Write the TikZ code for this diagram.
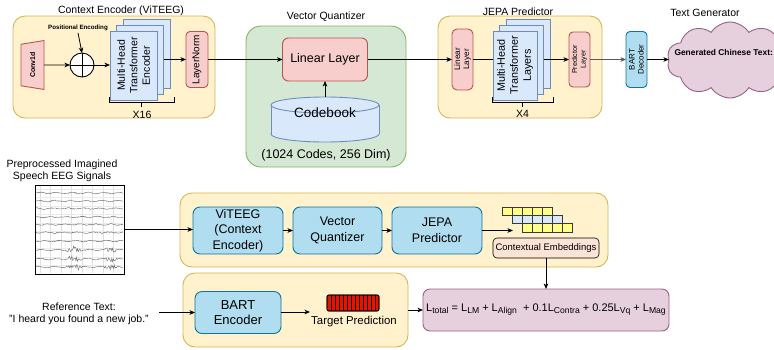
\documentclass[tikz,border=0pt]{standalone}
\usepackage{fontspec}
\setmainfont{Liberation Sans}
\usetikzlibrary{arrows.meta,shapes.geometric,shapes.symbols}

\definecolor{ylwF}{HTML}{FFF2CC}
\definecolor{ylwD}{HTML}{D6B656}
\definecolor{grnF}{HTML}{D5E8D4}
\definecolor{grnD}{HTML}{82B366}
\definecolor{redF}{HTML}{F8CECC}
\definecolor{redD}{HTML}{B85450}
\definecolor{bluF}{HTML}{DAE8FC}
\definecolor{bluD}{HTML}{6C8EBF}
\definecolor{cyF}{HTML}{B1DDF0}
\definecolor{cyD}{HTML}{10739E}
\definecolor{pnkF}{HTML}{E6D0DE}
\definecolor{pnkD}{HTML}{996185}
\definecolor{peach}{HTML}{FBE3D6}
\definecolor{cellY}{HTML}{FFFF88}
\definecolor{cellD}{HTML}{36393D}
\definecolor{barR}{HTML}{E51400}

\newcommand\fsz[2]{\fontsize{#1}{#2}\selectfont}
\newcommand\lsub[1]{\raisebox{-0.35ex}{\fsz{8.6}{9}#1}}

\begin{document}
\begin{tikzpicture}[x=1pt,y=-1pt,
  every node/.style={inner sep=0pt, outer sep=0pt, font=\fsz{10.5}{12.5}},
  box/.style={draw, line width=0.9pt, rounded corners=#1},
  box/.default=6,
  ylw/.style={box=12, fill=ylwF, draw=ylwD},
  grn/.style={box=15, fill=grnF, draw=grnD},
  redb/.style={box=#1, fill=redF, draw=redD},
  redb/.default=5,
  page/.style={draw=bluD, fill=bluF, line width=0.9pt},
  cyb/.style={box=#1, fill=cyF, draw=cyD},
  cyb/.default=6,
  pnk/.style={box=#1, fill=pnkF, draw=pnkD},
  pnk/.default=7,
  cell/.style={draw=cellD, line width=0.6pt, minimum width=10, minimum height=8.3},
  wire/.style={line width=0.8pt},
  arr/.style={wire, -{Stealth[length=5.5pt,width=4.6pt,inset=1.6pt]}},
  ttl/.style={font=\fsz{10.5}{12.5}}
]
\useasboundingbox (0,0) rectangle (774,349);

% ---------------- Context encoder ----------------
\node[ttl] (encT) at (121,11) {Context Encoder (ViTEEG)};
\node[ylw, minimum width=202, minimum height=102] (enc) at (114,67) {};
\node[trapezium, rotate=90, trapezium stretches=true, trapezium left angle=66,
      trapezium right angle=66, draw=redD, fill=redF, line width=0.9pt,
      minimum width=49, minimum height=23, font=\bfseries\fsz{7}{8}] (conv) at (32.5,65) {Conv1d};
\node[draw, circle, fill=white, line width=0.9pt, minimum size=24] (add) at (82,65) {};
\draw[wire] (add.north) -- (add.south) (add.west) -- (add.east);
\node[font=\bfseries\fsz{6.2}{7}] (pos) at (78,28) {Positional Encoding};
\draw[arr] (pos.south) ++(0,2) coordinate (posout) (posout) -- (add.north);
\draw[arr] (conv.south) -- (add.west);

\node[page, minimum width=47, minimum height=69] (eback) at (146.5,53.5) {};
\node[page, minimum width=47, minimum height=69] (emid) at (140,59.5) {};
\node[page, minimum width=47, minimum height=69] (efront) at (133.5,65.5) {};
\node[rotate=90, align=center, font=\fsz{10.5}{12.5}] (efrontT) at (efront.center) {Multi-Head\\Transformer\\Encoder};
\draw[arr] (add.east) -- (add.east -| efront.west);

\node[redb=4, minimum width=22, minimum height=56] (ln) at (197,59.5) {};
\node[rotate=90, font=\fsz{10}{12}] (lnT) at (ln.center) {LayerNorm};
\draw[arr] (emid.east) -- (emid.east -| ln.west);

\draw[wire] (109,97) -- (109,102) -- (174,102) -- (174,97) (141.5,102) -- (141.5,107);
\node[font=\fsz{10.5}{12}] (x16) at (142,114.5) {X16};

% ---------------- Vector quantizer ----------------
\node[ttl] (vqT) at (326,17) {Vector Quantizer};
\node[grn, minimum width=160, minimum height=141] (vq) at (326,96.5) {};
\node[redb=6, minimum width=85, minimum height=43] (vqlin) at (325,59.5) {};
\node[font=\fsz{12.5}{14}] (vqlinT) at (vqlin.center) {Linear Layer};
% codebook cylinder
\node[ellipse, draw=bluD, fill=bluF, line width=0.9pt, minimum width=108, minimum height=16] (cbbot) at (325,134) {};
\fill[bluF] (271,105) rectangle (379,134);
\draw[bluD, line width=0.9pt] (271,105) -- (271,134) (379,105) -- (379,134);
\node[ellipse, draw=bluD, fill=bluF, line width=0.9pt, minimum width=108, minimum height=16] (cbtop) at (325,105) {};
\node[font=\fsz{13.5}{15}] (cb) at (325,112.5) {Codebook};
\draw[arr] (cbtop.north) -- (vqlin.south);
\node[font=\fsz{12.5}{14}] (cbinfo) at (326,155) {(1024 Codes, 256 Dim)};
\draw[arr] (ln.east) -- (vqlin.west);

% ---------------- JEPA predictor ----------------
\node[ttl] (jT) at (518,12) {JEPA Predictor};
\node[ylw, minimum width=164, minimum height=102] (jb) at (520,67) {};
\node[redb=5, minimum width=21, minimum height=61] (jlin) at (462.5,59.5) {};
\node[rotate=90, align=center, font=\fsz{8.2}{9.2}] (jlinT) at (jlin.center) {Linear\\Layer};
\node[page, minimum width=44, minimum height=69] (jback) at (528,53.5) {};
\node[page, minimum width=44, minimum height=69] (jmid) at (521.5,59.5) {};
\node[page, minimum width=44, minimum height=69] (jfront) at (515,65.5) {};
\node[rotate=90, align=center, font=\fsz{10.8}{13}] (jfrontT) at (jfront.center) {Multi-Head\\Transformer\\Layers};
\node[redb=4, minimum width=21, minimum height=55] (jpred) at (579.5,59.5) {};
\node[rotate=90, align=center, font=\fsz{7.2}{8.4}] (jpredT) at (jpred.center) {Predictor\\Layer};
\draw[arr] (vqlin.east) -- (jlin.west);
\draw[wire] (jlin.east) -- (jlin.east -| jfront.west);
\draw[arr] (jmid.east) -- (jmid.east -| jpred.west);
\draw[wire] (492,97) -- (492,102) -- (553,102) -- (553,97) (522.5,102) -- (522.5,107);
\node[font=\fsz{10.5}{12}] (x4) at (522.5,113.5) {X4};

% ---------------- Text generator ----------------
\node[cyb=4, minimum width=21, minimum height=56] (bdec) at (636.5,59.5) {};
\node[rotate=90, align=center, font=\fsz{8}{9}] (bdecT) at (bdec.center) {BART\\Decoder};
\draw[arr, draw=black!65] (jpred.east) -- (bdec.west);
\node[ttl] (tgT) at (705,13) {Text Generator};
\node[cloud, cloud puffs=10, cloud puff arc=115, cloud ignores aspect, draw=pnkD, fill=pnkF,
      line width=0.9pt, minimum width=126, minimum height=76] (cloud) at (730,60) {};
\node[font=\bfseries\fsz{8.4}{10}, anchor=west] (gen) at (674.5,52) {Generated Chinese Text:};
\draw[arr] (bdec.east) -- (bdec.east -| cloud.west);

% ---------------- Training pipeline ----------------
\node[align=center, font=\fsz{10.5}{12}] (eegT) at (62,170.5) {Preprocessed Imagined\\Speech EEG Signals};
\node[draw, fill=white, line width=1pt, minimum width=89, minimum height=89] (eeg) at (79.5,229.5) {};
\begin{scope}
  \clip (36,186) rectangle (123,273);
  \foreach \k in {0,...,8} \draw[black!12, line width=0.3] (40+\k*10.5,186) -- ++(0,87);
  \foreach \k in {0,...,9} \draw[black!8, line width=0.3] (36,189+\k*8.5) -- ++(87,0);
  \pgfmathsetseed{17}
  \foreach \yy [count=\n] in {193,201,208.5,217,224.5,232.5,241,250,259,267} {
    \pgfmathsetmacro\bst{\n>7 ? 1 : 0}
    \pgfmathsetmacro\ph{47*\n}
    \draw[black!60, line width=0.4] plot[domain=36:123, samples=110]
      (\x, {\yy + 0.55*sin(\x*23+\ph) + (0.45 + \bst*(3*max(0,1-((\x-74)/8)^2) + 2.2*max(0,1-((\x-111)/7)^2)))*rand});
  }
\end{scope}
\draw[line width=1pt] (eeg.north west) rectangle (eeg.south east);

\node[ylw, minimum width=428, minimum height=74] (b1) at (394,230) {};
\node[cyb=7, minimum width=90, minimum height=47, align=center, font=\fsz{12.5}{15.5}] (vit) at (238,230.5) {ViTEEG\\(Context\\Encoder)};
\node[cyb=7, minimum width=89, minimum height=47, align=center, font=\fsz{12.5}{15.5}] (vqb) at (337.5,230.5) {Vector\\Quantizer};
\node[cyb=7, minimum width=90, minimum height=47, align=center, font=\fsz{12.5}{15.5}] (jpb) at (437,230.5) {JEPA\\Predictor};
\draw[arr] (eeg.east) -- (eeg.east -| vit.west);
\draw[arr] (vit.east) -- (vqb.west);
\draw[arr] (vqb.east) -- (jpb.west);
\coordinate (embin) at (513,230.5);
\draw[arr] (jpb.east) -- (embin);

\foreach \i in {0,...,4} {
  \node[cell, fill=cellY] (ra\i) at (507+10*\i,211.2) {};
  \node[cell, fill=bluF]  (rb\i) at (517+10*\i,219.5) {};
  \node[cell, fill=cellY] (rc\i) at (527+10*\i,227.8) {};
}
\node[box=4, draw=black, line width=0.6pt, fill=peach, minimum width=106, minimum height=20,
      font=\fsz{9.5}{11}] (ce) at (546,248) {Contextual Embeddings};

\node[ylw, minimum width=225, minimum height=74] (b2) at (295.5,310) {};
\node[align=center, font=\fsz{10.5}{12.5}] (ref) at (79,314) {Reference Text:\\"I heard you found a new job."};
\coordinate (refout) at (159,312.5);
\node[cyb=7, minimum width=86, minimum height=42, align=center, font=\fsz{13}{15}] (benc) at (238,312.5) {BART\\Encoder};
\draw[arr] (refout) -- (refout -| benc.west);
\node[draw=black, line width=0.8pt, fill=barR, rounded corners=2, minimum width=52, minimum height=16] (tp) at (353,303) {};
\foreach \k in {1,...,12} \draw[black, line width=0.55] (327+\k*4,295) -- ++(0,16);
\draw[line width=0.8pt, rounded corners=2] (tp.north west) rectangle (tp.south east);
\node[font=\fsz{11.4}{13}] (tpT) at (354,321.5) {Target Prediction};
\coordinate (tpin) at (310,312);
\draw[arr] (benc.east |- tpin) -- (tpin);

\node[pnk=7, minimum width=246, minimum height=42, font=\fsz{11}{13}] (loss) at (546,310)
  {L\lsub{total} = L\lsub{LM} + L\lsub{Align}\ \ + 0.1L\lsub{Contra} + 0.25L\lsub{Vq} + L\lsub{Mag}};
\draw[arr] (b2.east) -- (loss.west);
\draw[arr] (ce.south) -- (loss.north);
\end{tikzpicture}
\end{document}
